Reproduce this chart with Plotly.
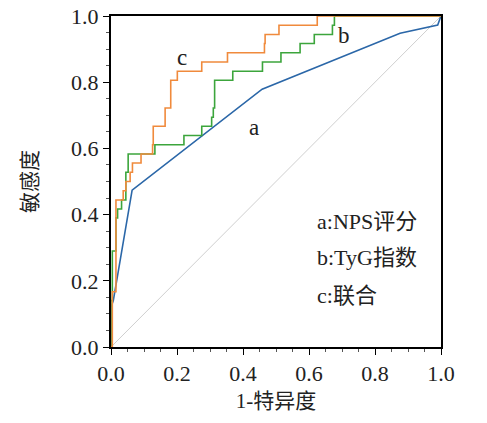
import plotly.graph_objects as go

# ROC curve values
a_fpr = [0, 0, 0.007, 0.064, 0.458, 0.876, 0.99, 1.0]
a_tpr = [0, 0.12, 0.14, 0.474, 0.779, 0.948, 0.973, 1.0]

b_fpr = [0, 0, 0.004, 0.015, 0.020, 0.032, 0.045, 0.052, 0.133, 0.221, 0.275,
         0.305, 0.310, 0.314, 0.369, 0.459, 0.515, 0.573, 0.616, 0.671, 0.677, 1.0]
b_tpr = [0, 0.14, 0.29, 0.39, 0.417, 0.444, 0.528, 0.583, 0.611, 0.639, 0.667,
         0.694, 0.722, 0.806, 0.833, 0.861, 0.889, 0.917, 0.944, 0.972, 1.0, 1.0]

c_fpr = [0, 0.004, 0.015, 0.037, 0.045, 0.058, 0.065, 0.091, 0.126, 0.128,
         0.164, 0.181, 0.201, 0.275, 0.353, 0.465, 0.467, 0.509, 0.625, 1.0]
c_tpr = [0, 0.167, 0.444, 0.472, 0.50, 0.528, 0.556, 0.583, 0.611, 0.667,
         0.722, 0.806, 0.833, 0.861, 0.889, 0.917, 0.944, 0.972, 1.0, 1.0]

ref_line = [0, 1]

curve_labels = ["a", "b", "c"]
label_x = [0.433, 0.706, 0.215]
label_y = [0.662, 0.940, 0.876]

legend_lines = ["a:NPS评分", "b:TyG指数", "c:联合"]
legend_y = [0.378, 0.269, 0.157]

font_main = '"Liberation Serif", "Noto Sans CJK SC", serif'

fig = go.Figure()
fig.add_trace(go.Scatter(x=ref_line, y=ref_line, mode="lines",
                         line=dict(color="#cfcfcf", width=1)))
fig.add_trace(go.Scatter(x=a_fpr, y=a_tpr, mode="lines",
                         line=dict(color="#2b67a8", width=1.6)))
fig.add_trace(go.Scatter(x=b_fpr, y=b_tpr, mode="lines", line_shape="hv",
                         line=dict(color="#3ca53c", width=1.6)))
fig.add_trace(go.Scatter(x=c_fpr, y=c_tpr, mode="lines", line_shape="hv",
                         line=dict(color="#f08a3c", width=1.6)))

for t, x, y in zip(curve_labels, label_x, label_y):
    fig.add_annotation(x=x, y=y, text=t, showarrow=False,
                       font=dict(family=font_main, size=23, color="#222"))

for t, y in zip(legend_lines, legend_y):
    fig.add_annotation(x=0.618, y=y, text=t, showarrow=False, xanchor="left",
                       font=dict(family=font_main, size=22, color="#222"))

axis_style = dict(
    range=[0, 1], dtick=0.2, tickformat=".1f", automargin=False,
    ticklabeloverflow="allow",
    showgrid=False, zeroline=False,
    showline=True, linecolor="black", linewidth=2, mirror=True,
    ticks="outside", ticklen=6, tickwidth=1.2, tickcolor="black",
    minor=dict(dtick=0.05, ticks="outside", ticklen=3, tickwidth=1, tickcolor="#555"),
    tickfont=dict(family=font_main, size=22, color="#222"),
)

fig.update_xaxes(**axis_style, title=dict(text="1-特异度", standoff=8,
                 font=dict(family=font_main, size=21, color="#222")))
fig.update_yaxes(**axis_style, title=dict(text="敏感度", standoff=28,
                 font=dict(family=font_main, size=21, color="#222")))

fig.update_layout(
    width=487, height=423,
    margin=dict(l=111, r=46, t=16, b=76),
    plot_bgcolor="white", paper_bgcolor="white",
    showlegend=False, hovermode=False,
)

# drop the default 8px page margin so the figure fills the window
fig.write_html("out.html", config={"displayModeBar": False},
               post_script="document.body.style.margin='0';")
